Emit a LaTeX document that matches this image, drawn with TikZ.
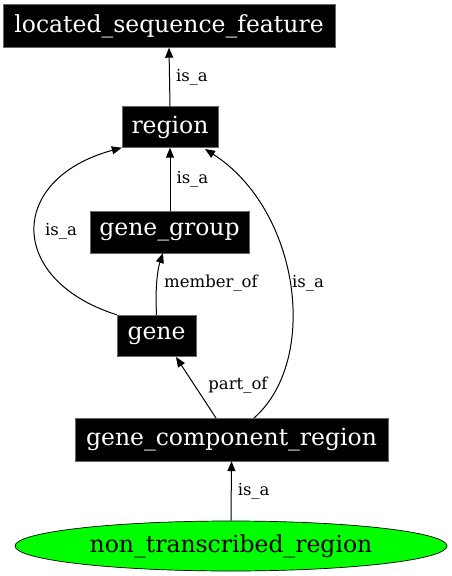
\documentclass[tikz,border=0pt]{standalone}
\usepackage{fontspec}
\setmainfont{DejaVu Serif}
\usetikzlibrary{positioning}
\usetikzlibrary{arrows.meta}
\usetikzlibrary{shapes.geometric}
\begin{document}
\begin{tikzpicture}[
        x=1pt, y=-1pt,
        box/.style={draw=black!60, fill=black, text=white, rectangle, inner sep=0pt, font=\fontsize{23.5}{26}\selectfont},
        term/.style={draw, ellipse, fill=green, inner sep=0pt, minimum width=432pt, minimum height=50pt, font=\fontsize{23.5}{26}\selectfont},
        arrow/.style={line width=1pt, -{Triangle[length=10pt, width=8pt]}},
        lbl/.style={font=\fontsize{16.5}{19}\selectfont, inner sep=1pt},
    ]
        \useasboundingbox (0,0) rectangle (451,576);
        \node[box, minimum width=332pt, minimum height=43pt] (feature) at (169,26) {located\_sequence\_feature};
        \node[box, minimum width=96pt, minimum height=41pt] (region) at (170,127) {region};
        \node[box, minimum width=159pt, minimum height=42pt] (genegroup) at (169.5,232) {gene\_group};
        \node[box, minimum width=79pt, minimum height=41pt] (gene) at (156.5,335.5) {gene};
        \node[box, minimum width=313pt, minimum height=43pt] (component) at (231.5,439.5) {gene\_component\_region};
        \node[term, line width=0.7pt] (nontranscribed) at (231,546) {non\_transcribed\_region};

        \draw[arrow] (region.north) -- node[lbl, right=5pt] {is\_a} (feature.south);
        \draw[arrow] (genegroup.north -| region) -- node[lbl, right=5pt] {is\_a} (region.south);
        \draw[arrow] (gene.north west) .. controls (7,280) and (7,179) .. (region.south west);
        \node[lbl] (isaleft) at (61,231) {is\_a};
        \draw[arrow] (gene.north) .. controls (155,285) and (158,268) .. (163,253);
        \node[lbl] (memberof) at (211,283) {member\_of};
        \draw[arrow] (216,418) -- (176,357);
        \node[lbl] (partof) at (238,385) {part\_of};
        \draw[arrow] (254,418) .. controls (320,360) and (300,210) .. (205,149);
        \node[lbl] (isaright) at (308,283) {is\_a};
        \draw[arrow] (nontranscribed.north) -- node[lbl, right=5pt] {is\_a} (component.south);
    \end{tikzpicture}
\end{document}
